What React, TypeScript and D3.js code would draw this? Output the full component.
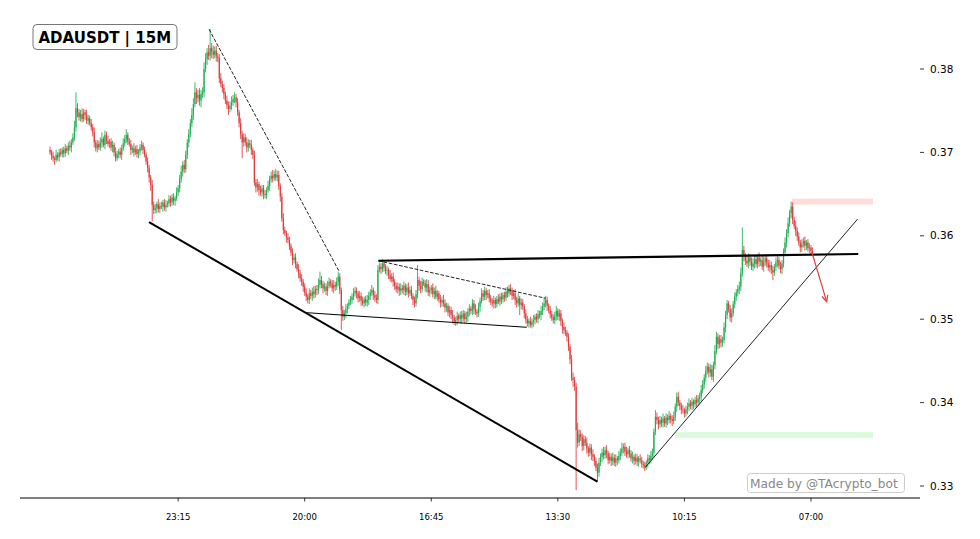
import React from "react";
import * as d3 from "d3";

// Close prices in units of 0.0001 USDT (15M bars, oldest first)
const CLOSES = [
  3700,3696,3693,3691,3697,3694,3700,3698,3703,3699,
  3705,3702,3708,3706,3712,3718,3730,3753,3748,3742,
  3746,3740,3748,3745,3738,3741,3735,3730,3724,3712,
  3705,3710,3706,3712,3716,3709,3721,3714,3710,3713,
  3706,3709,3700,3693,3698,3701,3697,3705,3711,3716,
  3721,3713,3710,3703,3705,3700,3704,3698,3701,3706,
  3709,3703,3697,3689,3681,3670,3661,3637,3631,3633,
  3638,3632,3636,3635,3640,3634,3637,3639,3644,3640,
  3646,3642,3645,3652,3657,3668,3677,3685,3680,3697,
  3712,3722,3735,3745,3758,3772,3765,3769,3762,3770,
  3772,3800,3812,3820,3816,3825,3821,3817,3822,3815,
  3813,3789,3782,3777,3770,3762,3757,3752,3756,3760,
  3764,3766,3760,3748,3735,3722,3712,3718,3712,3706,
  3711,3709,3703,3697,3664,3658,3662,3655,3652,3657,
  3650,3649,3655,3660,3668,3672,3669,3674,3670,3673,
  3660,3647,3621,3607,3603,3598,3595,3588,3580,3571,
  3574,3566,3560,3555,3549,3545,3539,3532,3527,3523,
  3531,3528,3533,3530,3536,3535,3541,3547,3542,3537,
  3539,3534,3540,3545,3543,3537,3541,3539,3545,3551,
  3535,3511,3503,3507,3512,3516,3520,3523,3527,3531,
  3534,3531,3525,3528,3522,3519,3524,3520,3523,3528,
  3532,3535,3529,3526,3523,3559,3563,3560,3567,3562,
  3558,3559,3553,3548,3551,3545,3540,3536,3539,3534,
  3537,3535,3540,3533,3538,3531,3535,3528,3523,3519,
  3530,3547,3540,3536,3545,3543,3538,3542,3532,3535,
  3538,3530,3534,3527,3531,3524,3520,3523,3519,3514,
  3516,3508,3511,3505,3502,3497,3499,3504,3500,3505,
  3501,3507,3500,3503,3509,3513,3510,3519,3512,3509,
  3507,3515,3522,3531,3527,3534,3529,3531,3525,3521,
  3519,3523,3518,3524,3521,3527,3524,3529,3526,3533,
  3531,3537,3535,3528,3531,3523,3519,3525,3517,3520,
  3515,3507,3500,3495,3498,3493,3497,3499,3503,3500,
  3506,3505,3510,3515,3519,3523,3516,3511,3506,3502,
  3499,3504,3510,3503,3507,3498,3491,3487,3484,3479,
  3467,3452,3430,3427,3419,3367,3352,3362,3359,3348,
  3356,3352,3345,3340,3346,3338,3335,3330,3322,3316,
  3328,3335,3340,3337,3343,3339,3331,3335,3330,3334,
  3328,3333,3331,3336,3340,3345,3347,3341,3338,3343,
  3339,3333,3335,3330,3334,3329,3333,3331,3327,3325,
  3323,3328,3333,3331,3336,3340,3365,3383,3379,3374,
  3379,3376,3381,3375,3382,3379,3384,3380,3378,3383,
  3395,3407,3400,3396,3392,3391,3387,3392,3395,3399,
  3396,3401,3398,3403,3400,3405,3407,3415,3422,3430,
  3438,3443,3436,3440,3431,3445,3462,3479,3470,3476,
  3472,3475,3490,3505,3519,3512,3502,3507,3518,3527,
  3532,3536,3539,3555,3583,3575,3570,3567,3574,3569,
  3563,3567,3572,3566,3574,3569,3571,3563,3569,3573,
  3567,3562,3565,3559,3556,3563,3568,3571,3564,3560,
  3567,3580,3592,3603,3615,3627,3635,3619,3612,3606,
  3599,3592,3586,3590,3594,3588,3592,3585,3586,3582,3580,
];
const FIRST_OPEN = 3703;

// Upper wick above the body, 0.0001 units
const UPPER_WICKS = [
  4,3,5,2,6,3,4,5,3,4, 5,3,4,6,4,5,8,19,6,4, 5,7,4,3,6,4,3,5,4,6, 3,5,4,6,8,3,5,4,6,3,
  4,5,3,6,4,3,5,4,6,5, 7,3,4,5,3,6,4,5,3,4, 5,3,4,3,5,4,3,6,4,5, 3,6,4,5,3,4,6,3,5,4,
  4,5,3,6,4,5,7,4,6,5, 4,6,5,8,7,12,5,6,8,5, 6,8,7,5,9,23,6,7,5,6, 4,5,6,4,5,3,6,4,5,7,
  5,6,4,5,3,6,4,5,4,6, 5,4,6,3,5,4,6,3,5,4, 4,5,3,6,4,5,7,4,6,5, 5,3,4,6,4,3,5,4,3,5,
  4,5,3,6,4,5,3,4,5,3, 6,4,5,7,4,5,8,10,5,4, 5,4,6,5,3,4,6,4,5,6, 4,3,5,4,6,3,4,5,4,6,
  5,4,3,6,4,5,3,4,6,5, 4,6,3,5,4,6,5,4,5,3, 4,5,3,6,4,5,3,4,5,4, 6,4,5,3,4,6,4,5,3,4,
  5,18,4,6,5,3,4,6,5,4, 3,5,4,6,4,3,5,4,6,5, 4,3,5,4,6,3,4,5,3,4, 5,4,3,6,4,5,3,5,4,6,
  3,5,4,6,4,5,3,4,5,4, 4,5,3,4,6,4,5,3,4,5, 6,4,5,3,4,5,4,6,3,5, 4,3,5,4,3,5,4,6,3,4,
  5,4,6,5,7,5,4,3,5,4, 4,5,6,3,5,4,3,5,4,3, 4,3,5,6,4,5,9,6,5,4, 5,4,6,3,5,4,6,3,4,5,
  6,4,5,7,4,6,3,5,4,6, 4,5,3,6,5,7,4,5,6,3, 5,4,6,3,5,4,3,5,4,3, 4,3,5,4,6,5,4,8,5,4,
  5,4,6,3,5,4,6,3,5,6, 4,5,6,3,4,5,3,4,5,6, 4,5,3,4,6,4,5,6,5,4, 6,5,4,6,5,4,7,6,4,5,
  5,4,6,5,4,3,5,6,4,5, 4,5,6,7,27,5,4,6,5,4, 5,6,4,5,4,6,3,5,6,4, 5,4,6,4,5,3,6,5,4,5,
  4,5,6,5,7,4,6,5,4,6, 4,5,3,6,4,5,3,4,5,3,4,
];

// Lower wick below the body, 0.0001 units
const LOWER_WICKS = [
  3,5,4,6,3,4,5,3,4,5, 4,3,5,4,6,3,4,5,6,4, 5,4,3,6,4,5,3,4,5,6, 4,5,3,4,6,3,5,4,3,5,
  4,6,5,4,3,5,4,6,3,4, 5,4,3,6,4,5,3,4,5,4, 4,5,3,4,5,6,7,20,5,4, 6,4,5,3,6,4,5,3,4,5,
  4,5,6,3,4,5,4,6,5,4, 5,6,4,5,6,4,7,5,6,8, 5,6,4,7,5,6,8,5,4,6, 5,6,4,5,6,4,5,7,4,5,
  4,5,6,4,5,6,19,5,4,6, 5,4,6,5,4,6,5,7,4,5, 6,4,5,3,6,4,5,3,4,5, 5,6,4,5,3,6,4,5,4,6,
  4,5,3,6,4,5,6,4,5,4, 5,4,6,5,4,6,5,4,5,6, 4,5,6,3,5,4,6,5,4,5, 5,24,5,4,6,5,4,3,5,4,
  4,6,5,4,6,3,5,4,5,6, 5,4,6,5,4,5,3,6,4,5, 4,6,5,3,4,6,5,4,5,6, 5,4,6,5,4,5,3,4,6,5,
  4,5,6,5,4,3,5,6,4,5, 5,4,6,3,5,4,6,5,4,6, 5,4,6,5,7,4,5,6,4,5, 6,4,5,4,6,5,4,5,6,4,
  5,4,6,3,5,4,6,4,5,4, 4,6,5,4,3,5,6,4,5,4, 5,4,6,5,4,6,5,4,12,5, 4,6,5,4,5,3,4,6,5,4,
  5,4,6,5,4,5,6,4,5,4, 4,5,6,4,5,6,8,5,4,6, 5,6,4,8,5,72,6,4,5,6, 5,4,6,5,4,7,5,6,4,11,
  5,4,6,5,4,6,5,4,6,5, 4,5,6,4,5,4,6,5,4,5, 5,4,6,5,4,5,6,4,5,4, 5,4,6,5,4,5,6,4,5,6,
  4,5,6,4,5,6,4,5,6,4, 5,6,4,5,6,4,5,4,6,5, 4,5,6,4,5,4,6,5,4,5, 5,4,6,5,4,6,5,4,6,5,
  6,5,4,6,5,4,5,6,4,5, 5,4,6,5,4,6,5,4,6,5, 4,5,6,4,5,6,5,4,6,5, 5,4,6,5,9,4,5,6,4,5,
  6,5,4,6,5,4,6,5,4,6, 5,4,6,5,4,6,5,4,6,5,4,
];

const X_TICK_INDEX = [84, 167, 250, 333, 416, 499];
const X_TICK_LABELS = ["23:15", "20:00", "16:45", "13:30", "10:15", "07:00"];
const Y_TICKS = [0.33, 0.34, 0.35, 0.36, 0.37, 0.38];

// Drawn trend lines: [barIndex, price] pairs
const SUPPORT_MAIN: [number, number][] = [[64.9, 0.36165], [358.9, 0.33052]];
const RESIST_DASH_1: [number, number][] = [[104.3, 0.38476], [189.7, 0.3557]];
const SUPPORT_FLAG: [number, number][] = [[168.3, 0.35078], [312.6, 0.34903]];
const RESIST_DASH_2: [number, number][] = [[215.3, 0.35701], [325.0, 0.35251]];
const NECKLINE: [number, number][] = [[215.3, 0.35701], [530.0, 0.35782]];
const RISING_SUPPORT: [number, number][] = [[390.2, 0.3322], [529.6, 0.36201]];
const ARROW: [number, number][] = [[499.5, 0.35809], [509.3, 0.3521]];

// Zones: [startIndex, endIndex, price]
const RED_ZONE = [486.6, 539.7, 0.3641];
const GREEN_ZONE = [409.8, 539.7, 0.3361];

const GREEN = "#1fae50";
const RED = "#e03a3c";

export default function App() {
  const x = d3.scaleLinear().domain([-19.7, 570.5]).range([20, 920]);
  const y = d3.scaleLinear().domain([0.33, 0.38]).range([486, 69]);
  const n = Math.min(CLOSES.length, UPPER_WICKS.length, LOWER_WICKS.length);
  const candles = d3.range(n).map((i) => {
    const o = i === 0 ? FIRST_OPEN : CLOSES[i - 1];
    const c = CLOSES[i];
    const h = Math.max(o, c) + UPPER_WICKS[i];
    const l = Math.min(o, c) - LOWER_WICKS[i];
    return { i, o: o / 1e4, c: c / 1e4, h: h / 1e4, l: l / 1e4 };
  });
  const line = d3
    .line<[number, number]>()
    .x((d) => x(d[0]))
    .y((d) => y(d[1]));

  const bodyW = 1.2;
  const ax1 = x(ARROW[0][0]), ay1 = y(ARROW[0][1]);
  const ax2 = x(ARROW[1][0]), ay2 = y(ARROW[1][1]);
  const ang = Math.atan2(ay2 - ay1, ax2 - ax1);
  const hl = 7, spread = 0.45;
  const hA = [ax2 - hl * Math.cos(ang - spread), ay2 - hl * Math.sin(ang - spread)];
  const hB = [ax2 - hl * Math.cos(ang + spread), ay2 - hl * Math.sin(ang + spread)];

  return (
    <svg
      width={980}
      height={539}
      style={{ position: "absolute", left: 0, top: 0, background: "#fff" }}
      fontFamily="DejaVu Sans, sans-serif"
    >
      <rect x={0} y={0} width={980} height={539} fill="#fff" />
      {/* zones */}
      <rect
        x={x(RED_ZONE[0])}
        y={y(RED_ZONE[2]) - 3}
        width={x(RED_ZONE[1]) - x(RED_ZONE[0])}
        height={6}
        fill="#ffdcdc"
      />
      <rect
        x={x(GREEN_ZONE[0])}
        y={y(GREEN_ZONE[2]) - 3}
        width={x(GREEN_ZONE[1]) - x(GREEN_ZONE[0])}
        height={6}
        fill="#dcfadc"
      />
      {/* candles */}
      <g>
        {candles.map((d) => {
          const col = d.c >= d.o ? GREEN : RED;
          const cx = x(d.i);
          const top = y(Math.max(d.o, d.c));
          const bot = y(Math.min(d.o, d.c));
          return (
            <g key={d.i}>
              <line x1={cx} x2={cx} y1={y(d.h)} y2={y(d.l)} stroke={col} strokeWidth={0.85} />
              <rect x={cx - bodyW / 2} y={top} width={bodyW} height={Math.max(0.6, bot - top)} fill={col} />
            </g>
          );
        })}
      </g>
      {/* trend lines */}
      <path d={line(SUPPORT_MAIN) || ""} stroke="#000" strokeWidth={2} fill="none" />
      <path d={line(RESIST_DASH_1) || ""} stroke="#222" strokeWidth={1} strokeDasharray="3.7,1.6" fill="none" />
      <path d={line(SUPPORT_FLAG) || ""} stroke="#000" strokeWidth={1} fill="none" />
      <path d={line(RESIST_DASH_2) || ""} stroke="#222" strokeWidth={1} strokeDasharray="3.7,1.6" fill="none" />
      <path d={line(NECKLINE) || ""} stroke="#000" strokeWidth={2.2} fill="none" />
      <path d={line(RISING_SUPPORT) || ""} stroke="#222" strokeWidth={1} fill="none" />
      {/* arrow */}
      <path d={`M${ax1},${ay1}L${ax2},${ay2}`} stroke="#e03a3c" strokeWidth={1.2} fill="none" />
      <path d={`M${hA[0]},${hA[1]}L${ax2},${ay2}L${hB[0]},${hB[1]}`} stroke="#e03a3c" strokeWidth={1.2} fill="none" />
      {/* bottom axis */}
      <line x1={20} x2={920} y1={498} y2={498} stroke="#000" strokeWidth={1} />
      {X_TICK_INDEX.map((t, k) => (
        <g key={t}>
          <line x1={x(t)} x2={x(t)} y1={498} y2={501.5} stroke="#000" strokeWidth={0.8} />
          <text x={x(t)} y={520} fontSize={8.5} textAnchor="middle" fill="#000">
            {X_TICK_LABELS[k]}
          </text>
        </g>
      ))}
      {/* right axis ticks */}
      {Y_TICKS.map((t) => (
        <g key={t}>
          <line x1={920} x2={924} y1={y(t)} y2={y(t)} stroke="#000" strokeWidth={0.8} />
          <text x={930} y={y(t)} dy="0.35em" fontSize={10.5} fill="#000">
            {d3.format(".2f")(t)}
          </text>
        </g>
      ))}
      {/* title */}
      <rect x={33} y={24.5} width={144} height={25} rx={4} fill="#fff" stroke="#777" strokeWidth={1} />
      <text x={38.5} y={42.5} fontSize={15} fontWeight="bold" fill="#000">
        ADAUSDT | 15M
      </text>
      {/* watermark */}
      <rect x={747.5} y={473.5} width={157} height={19} rx={3} fill="#fff" stroke="#ccc" strokeWidth={1} />
      <text x={750} y={487.5} fontSize={12.2} fill="#888">
        Made by @TAcrypto_bot
      </text>
    </svg>
  );
}
